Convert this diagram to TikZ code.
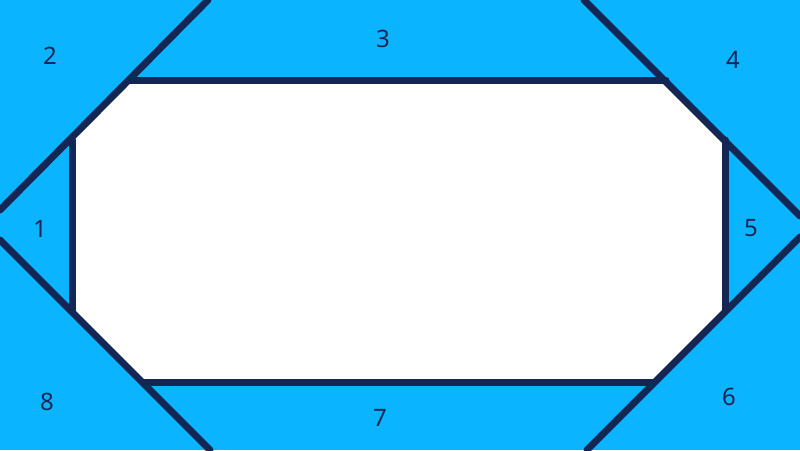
\documentclass[tikz,border=0pt]{standalone}
\usepackage{fontspec}
\setmainfont{Noto Sans}
\definecolor{sky}{RGB}{10,180,255}
\definecolor{navy}{RGB}{20,38,84}
\tikzset{
  edge/.style={draw=navy, line width=7pt, line cap=round},
  lab/.style={text=navy, font=\fontsize{24}{24}\selectfont, inner sep=0pt}
}
\begin{document}
\begin{tikzpicture}[x=1pt,y=1pt]
  \useasboundingbox (0,0) rectangle (800,450);
  \clip (0,0) rectangle (800,450);
  \fill[sky] (0,0) rectangle (800,450);
  % octagon corners
  \coordinate (a) at (130,369.5);
  \coordinate (b) at (666,369.5);
  \coordinate (c) at (725,310);
  \coordinate (d) at (725,139);
  \coordinate (e) at (654,68);
  \coordinate (f) at (145,68);
  \coordinate (g) at (72,139);
  \coordinate (h) at (72,310);
  \fill[white] (a) -- (b) -- (c) -- (d) -- (e) -- (f) -- (g) -- (h) -- cycle;
  % ends of the long diagonals
  \coordinate (tl1) at (0,240);
  \coordinate (tl2) at (208,450);
  \coordinate (tr1) at (584,450);
  \coordinate (tr2) at (800,234);
  \coordinate (bl1) at (0,210);
  \coordinate (bl2) at (210,0);
  \coordinate (br1) at (587,0);
  \coordinate (br2) at (800,213);
  \draw[edge] (tl1) -- (tl2);
  \draw[edge] (tr1) -- (tr2);
  \draw[edge] (bl1) -- (bl2);
  \draw[edge] (br1) -- (br2);
  \draw[edge] (a) -- (b);
  \draw[edge] (c) -- (d);
  \draw[edge] (e) -- (f);
  \draw[edge] (g) -- (h);
  \node[lab] (n1) at (40,221) {1};
  \node[lab] (n2) at (50,394) {2};
  \node[lab] (n3) at (383,411) {3};
  \node[lab] (n4) at (733,390) {4};
  \node[lab] (n5) at (751,222) {5};
  \node[lab] (n6) at (729,53) {6};
  \node[lab] (n7) at (380,32) {7};
  \node[lab] (n8) at (47,48) {8};
\end{tikzpicture}
\end{document}
